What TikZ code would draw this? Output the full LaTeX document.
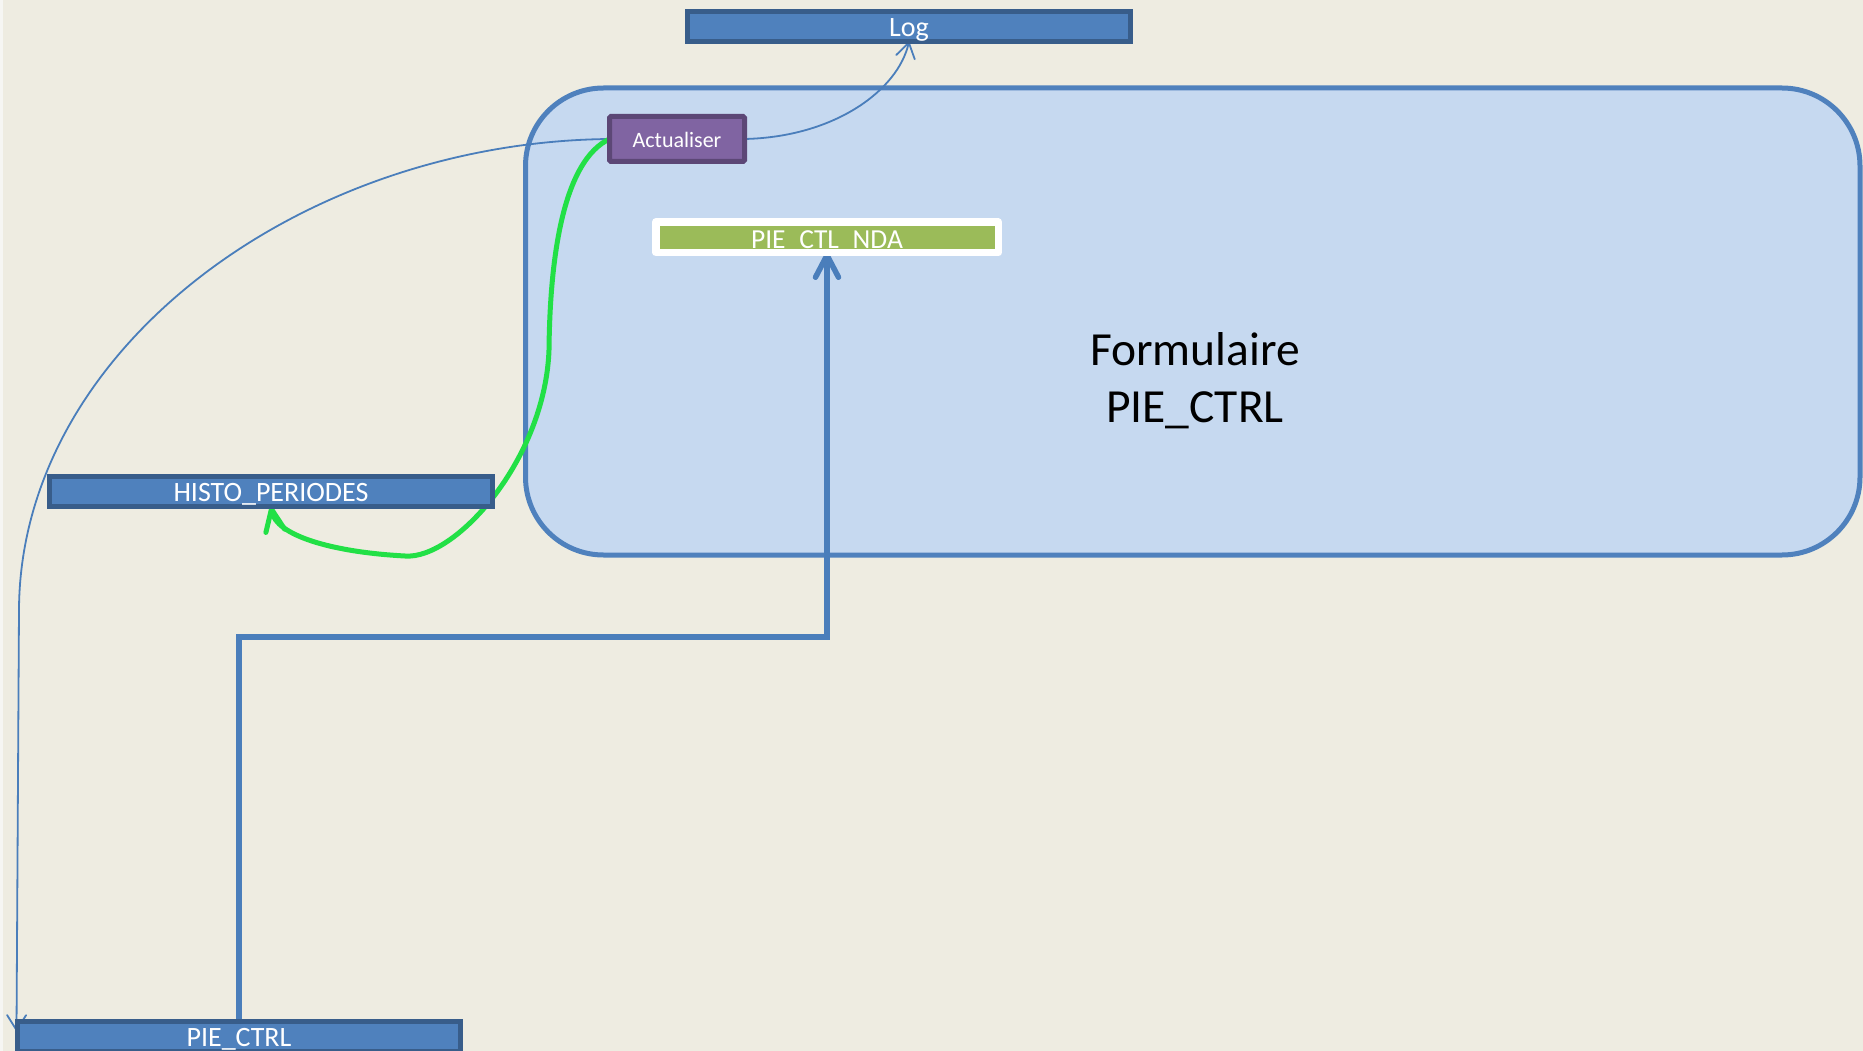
\documentclass[tikz,border=0pt]{standalone}
\usepackage{fontspec}
\setmainfont{Carlito}
\usetikzlibrary{arrows.meta}
\definecolor{bgc}{HTML}{EEECE1}
\definecolor{stripc}{HTML}{F6F6F3}
\definecolor{boxfill}{HTML}{4F81BD}
\definecolor{boxedge}{HTML}{385D8A}
\definecolor{formfill}{HTML}{C6D9F0}
\definecolor{formedge}{HTML}{4F81BD}
\definecolor{linec}{HTML}{4A7EBB}
\definecolor{actfill}{HTML}{8064A2}
\definecolor{actedge}{HTML}{5C4776}
\definecolor{ndafill}{HTML}{9BBB59}
\definecolor{greenc}{HTML}{22E046}
\pgfdeclarelayer{bg}
\pgfdeclarelayer{conn}
\pgfsetlayers{bg,conn,main}
\begin{document}
\begin{tikzpicture}[x=1pt,y=-1pt,
  tablebox/.style={draw=boxedge, fill=boxfill, line width=4.7pt,
    minimum width=443.3pt, minimum height=30.3pt, inner sep=0pt, outer sep=0pt,
    text=white, font=\fontsize{28}{34}\selectfont, text height=20.7pt, text depth=0pt},
  actbox/.style={draw=actedge, fill=actfill, line width=5pt, rounded corners=1.5pt,
    minimum width=135pt, minimum height=45pt, inner sep=0pt, outer sep=0pt,
    text=white, font=\fontsize{22}{26}\selectfont, text height=17.9pt, text depth=0pt},
  ndabox/.style={fill=ndafill, minimum width=342.5pt, minimum height=30.5pt,
    inner sep=0pt, outer sep=0pt, text=white,
    font=\fontsize{27.5}{32}\selectfont, text height=22pt, text depth=0pt},
  ndaframe/.style={draw=white, line width=7.5pt, line join=round},
  formbox/.style={draw=formedge, fill=formfill, line width=5pt, rounded corners=78pt,
    minimum width=1334.5pt, minimum height=467pt, inner sep=0pt, outer sep=0pt},
  formtext/.style={font=\fontsize{47.5}{57}\selectfont, align=center, text=black,
    inner sep=0pt, text height=30pt, text depth=0pt},
  thinlink/.style={draw=linec, line width=1.8pt,
    -{Straight Barb[length=15pt,width=19pt,round]}},
  thicklink/.style={draw=linec, line width=5.5pt,
    -{Straight Barb[length=22pt,width=23pt,round]}},
  greenlink/.style={draw=greenc, line width=5pt, line cap=round,
    -{Straight Barb[length=22pt,width=19pt,round]}}
]
\useasboundingbox (0,0) rectangle (1863,1051);
\begin{pgfonlayer}{bg}
  \fill[bgc] (0,0) rectangle (1863,1051);
  \fill[stripc] (0,0) rectangle (3,1051);
  \node[formbox] (form) at (1192.75,321.5) {};
  \node[formtext] (formlabel) at (1195,407) {Formulaire\\PIE\_CTRL};
\end{pgfonlayer}

\node[tablebox] (log) at (909,26.5) {Log};
\node[tablebox] (histo) at (271,491.5) {HISTO\_PERIODES};
\node[tablebox] (ctrl) at (239,1036.5) {PIE\_CTRL};
\node[actbox] (act) at (677,139) {Actualiser};
\node[ndabox] (nda) at (827,237.25) {PIE\_CTL\_NDA};
\draw[ndaframe] (nda.north west) rectangle (nda.south east);
\coordinate (ctrltip) at (16.5,1031);
\coordinate (elbow) at (827,637);

\begin{pgfonlayer}{conn}
  \draw[thinlink] (act.east) .. controls (835,137) and (898,90) .. (log.south);
  \draw[thinlink] (act.west) .. controls (300,142) and (20,350) .. (19,610) -- (ctrltip);
  \draw[thicklink] (ctrl.north) |- (elbow) -- (nda.south);
  \draw[greenlink] (act.west) .. controls (565,160) and (550,250) .. (549,350)
     .. controls (545,460) and (455,560) .. (405,556)
     .. controls (330,552) and (276,535) .. (histo.south);
\end{pgfonlayer}
\end{tikzpicture}
\end{document}
